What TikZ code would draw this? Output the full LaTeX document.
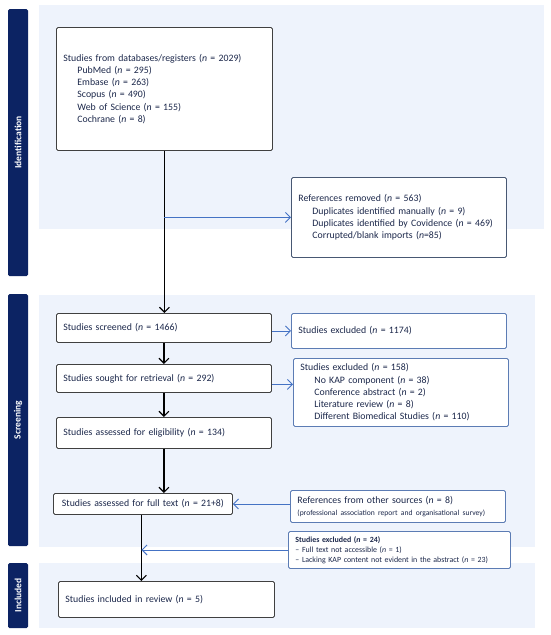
\documentclass[tikz,border=0pt]{standalone}
\usepackage{fontspec}
\setmainfont{Carlito}
\usetikzlibrary{arrows.meta,calc}
\definecolor{panel}{RGB}{238,243,252}
\definecolor{navy}{RGB}{12,35,99}
\definecolor{boxgray}{RGB}{64,64,64}
\definecolor{boxblue}{RGB}{92,124,180}
\definecolor{boxslate}{RGB}{72,88,115}
\definecolor{txt}{RGB}{28,40,75}
\definecolor{arrblue}{RGB}{68,114,196}
\tikzset{
  box/.style={draw=boxgray, line width=0.9pt, fill=white, rounded corners=1.5pt,
    inner xsep=7pt, inner ysep=0pt, align=left, anchor=north west, text=txt,
    font=\fontsize{9.8}{12.2}\selectfont},
  rbox/.style={box, draw=boxblue},
  sidebar/.style={fill=navy, rounded corners=1.5pt},
  sidelabel/.style={rotate=90, text=white, font=\bfseries\fontsize{9.5}{11}\selectfont},
  mainarr/.style={line width=1.2pt, black, -{Straight Barb[length=5pt,width=10pt,line width=1.1pt]}},
  bluearr/.style={line width=0.9pt, arrblue, -{Straight Barb[length=5pt,width=10pt,line width=0.9pt]}},
}
\newcommand{\ind}{\hspace*{14pt}}
\newcommand{\nn}{\textit{n}}
\begin{document}
\begin{tikzpicture}[x=1pt,y=-1pt]
\useasboundingbox (0,0) rectangle (550,635);
% panels
\fill[panel] (39,5) rectangle (544,229);
\fill[panel] (39,295) rectangle (535,547);
\fill[panel] (39,563) rectangle (535,628);
% sidebars
\fill[sidebar] (8,9) rectangle (28,276);
\fill[sidebar] (8,294) rectangle (28,546);
\fill[sidebar] (8,563) rectangle (28,628);
\node[sidelabel] (lid) at (18,142.5) {Identification};
\node[sidelabel] (lsc) at (18,420) {Screening};
\node[sidelabel] (lin) at (18,595.5) {Included};
% left column boxes
\node[box, text width=202pt, minimum height=123pt] (db) at (56,27)
  {Studies from databases/registers (\nn{} = 2029)\\
   \ind PubMed (\nn{} = 295)\\
   \ind Embase (\nn{} = 263)\\
   \ind Scopus (\nn{} = 490)\\
   \ind Web of Science (\nn{} = 155)\\
   \ind Cochrane (\nn{} = 8)};
\node[box, text width=201pt, minimum height=29pt] (scr) at (56,313)
  {Studies screened (\nn{} = 1466)};
\node[box, text width=201pt, minimum height=28pt] (sou) at (56,364)
  {Studies sought for retrieval (\nn{} = 292)};
\node[box, text width=201pt, minimum height=31pt] (eli) at (56,417)
  {Studies assessed for eligibility (\nn{} = 134)};
\node[box, text width=165pt, minimum height=21pt, align=center] (ful) at (53,493)
  {Studies assessed for full text (\nn{} = 21+8)};
\node[box, text width=202pt, minimum height=36pt] (inc) at (58,581)
  {Studies included in review (\nn{} = 5)};
% right column boxes
\node[rbox, draw=boxslate, text width=201pt, minimum height=80pt] (rem) at (291,177)
  {References removed (\nn{} = 563)\\
   \ind Duplicates identified manually (\nn{} = 9)\\
   \ind Duplicates identified by Covidence (\nn{} = 469)\\
   \ind Corrupted/blank imports (\nn{}=85)};
\node[rbox, text width=201pt, minimum height=35pt] (ex1) at (291,313)
  {Studies excluded (\nn{} = 1174)};
\node[rbox, text width=201pt, minimum height=68pt] (ex2) at (293,358)
  {Studies excluded (\nn{} = 158)\\
   \ind No KAP component (\nn{} = 38)\\
   \ind Conference abstract (\nn{} = 2)\\
   \ind Literature review (\nn{} = 8)\\
   \ind Different Biomedical Studies (\nn{} = 110)};
\node[rbox, text width=201pt, minimum height=32pt] (ref) at (290,490)
  {References from other sources (\nn{} = 8)\\
   {\fontsize{7.6}{9}\selectfont (professional association report and organisational survey)}};
\node[rbox, text width=208pt, minimum height=37pt, font=\fontsize{7.9}{9.8}\selectfont] (ex3) at (288,531)
  {\textbf{Studies excluded (\nn{} = 24)}\\
   – Full text not accessible (\nn{} = 1)\\
   – Lacking KAP content not evident in the abstract (\nn{} = 23)};
% main flow
\draw[mainarr] (db.south) -- (db.south |- scr.north);
\coordinate (br) at (db.south |- rem.west);
\draw[bluearr] (br) -- (rem.west);
\draw[mainarr] (scr.south) -- (sou.north);
\draw[mainarr] (sou.south) -- (eli.north);
\draw[mainarr] (eli.south) -- (eli.south |- ful.north);
\coordinate (fs) at ($(ful.south)+(-1.5,0)$);
\draw[mainarr] (fs) -- (fs |- inc.north);
% side arrows
\draw[bluearr] (scr.east |- ex1.west) -- (ex1.west);
\coordinate (sa) at ($(sou.east)+(0,6)$);
\draw[bluearr] (sa) -- (sa -| ex2.west);
\draw[bluearr] (ref.west |- ful.east) -- (ful.east);
\draw[bluearr] (ex3.west) -- (ex3.west -| fs);
\end{tikzpicture}
\end{document}
